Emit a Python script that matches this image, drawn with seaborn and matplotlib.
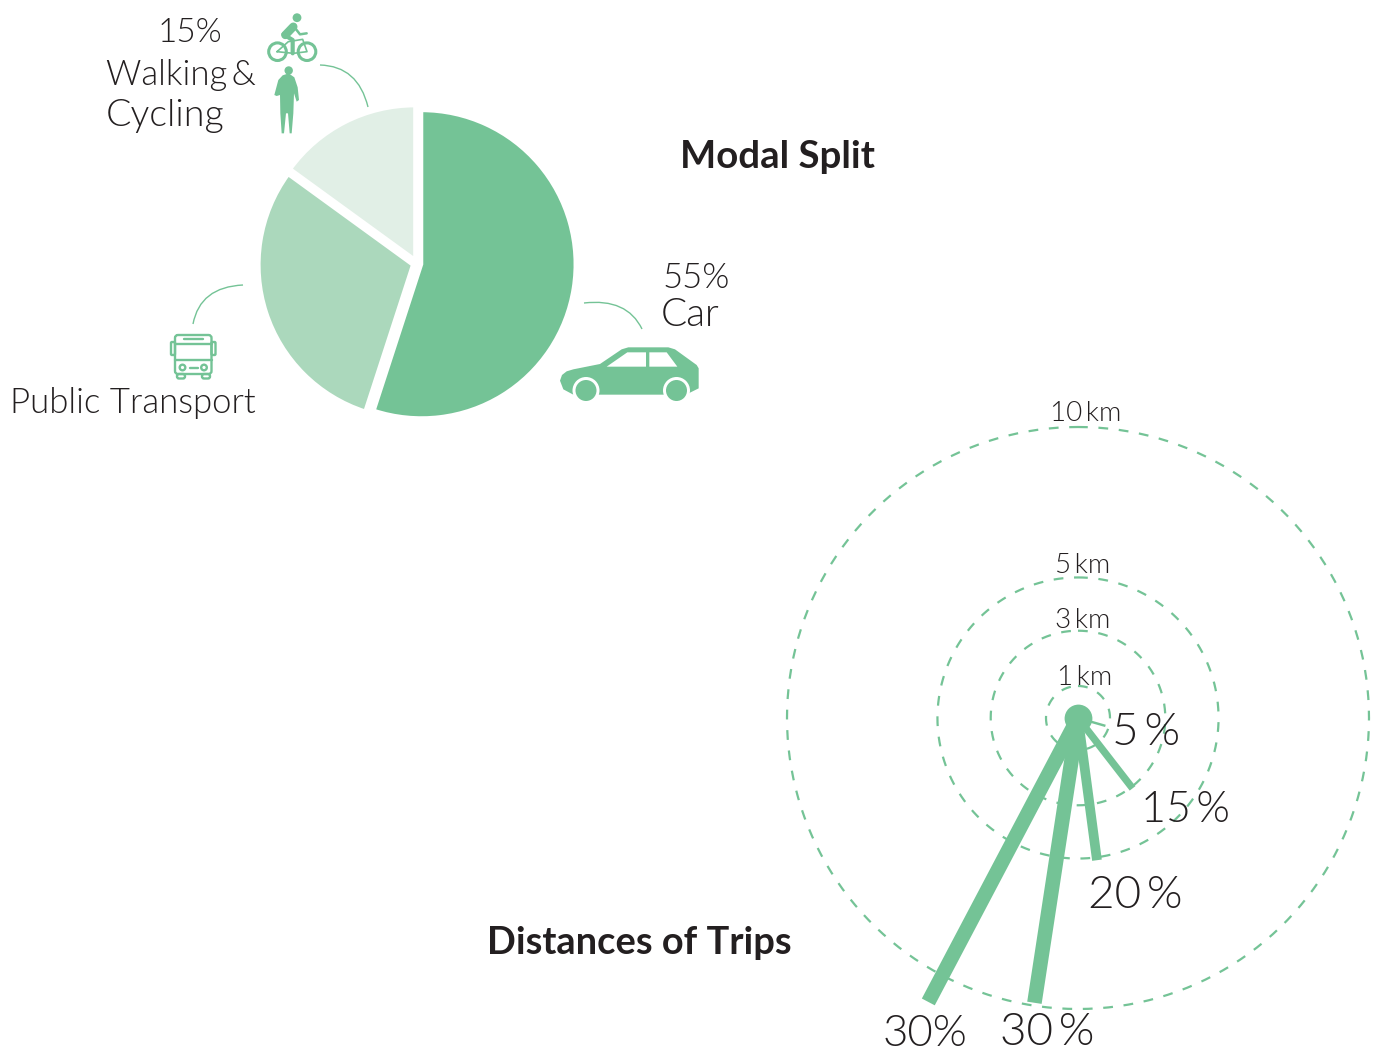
import numpy as np
import pandas as pd
import matplotlib
matplotlib.use("Agg")
import matplotlib.pyplot as plt
from matplotlib.patches import Circle, FancyBboxPatch, PathPatch, Polygon
from matplotlib.path import Path
import seaborn as sns

# modal split
modes = ["Car", "Public Transport", "Walking & Cycling"]
mode_share = [55, 30, 15]
mode_colors = ["#74C396", "#ABD8BC", "#E1EFE6"]

# trip distances
ring_km = [1, 3, 5, 10]
ring_radius = [1.1, 3.0, 4.83, 10.0]
trip_share = [5, 15, 20, 30, 30]
trip_angle = [106, 142.2, 172.4, 188.7, 207.8]
trip_reach = [0.98, 3.06, 4.93, 9.9, 11.03]

W, H = 1383, 1052
GREEN = "#74C396"
INK = "#231F20"

sns.set_theme(style="white")
plt.rcParams["font.family"] = ["Lato", "DejaVu Sans"]

fig = plt.figure(figsize=(W / 100, H / 100), dpi=100)
fig.patch.set_facecolor("white")


def px_axes(cx, cy, half, **kw):
    return fig.add_axes([(cx - half) / W, 1 - (cy + half) / H, 2 * half / W, 2 * half / H], **kw)


# %% pie
pie_ax = px_axes(417, 263.5, 153 * 1.25)
pie_ax.pie(
    mode_share,
    colors=mode_colors,
    startangle=90,
    counterclock=False,
    radius=1.005,
    explode=[0.03, 0.03, 0.03],
    wedgeprops={"edgecolor": "white", "linewidth": 2.5},
)
pie_ax.set_xlim(-1.25, 1.25)
pie_ax.set_ylim(-1.25, 1.25)

# %% rings and spokes
km_px = 29.1
polar_ax = px_axes(1078, 718, 10.2 * km_px, projection="polar")
polar_ax.set_theta_zero_location("N")
polar_ax.set_theta_direction(-1)
circle_theta = np.linspace(0, 2 * np.pi, 361)
for radius in ring_radius:
    sns.lineplot(
        x=circle_theta,
        y=np.full(361, radius),
        ax=polar_ax,
        color=GREEN,
        linewidth=1.6,
        estimator=None,
        sort=False,
        linestyle=(0, (4.4, 4.8)),
    )
for share, angle, reach in zip(trip_share, trip_angle, trip_reach):
    spoke = pd.DataFrame({"theta": np.radians([angle, angle]), "r": [0, reach]})
    sns.lineplot(
        data=spoke,
        x="theta",
        y="r",
        ax=polar_ax,
        color=GREEN,
        linewidth=share * 0.35,
        estimator=None,
        sort=False,
        solid_capstyle="butt",
        clip_on=False,
    )
polar_ax.scatter([0], [0], s=400, color=GREEN, linewidth=0, zorder=5)
polar_ax.set_rlim(0, 10.2)
polar_ax.axis("off")

# %% overlay for text, icons and leaders, in picture pixels
over = fig.add_axes([0, 0, 1, 1])
over.set_xlim(0, W)
over.set_ylim(H, 0)
over.axis("off")
over.patch.set_alpha(0)


def label(x, y, s, size, weight=300):
    over.text(x, y, s, fontsize=size, fontweight=weight, color=INK, ha="left", va="baseline")


label(158, 42, "15%", 24)
label(106, 85, "Walking\u2009&", 25)
label(106, 126, "Cycling", 27)
label(10, 413, "Public Transport", 25)
label(663, 288, "55%", 25)
label(661, 326, "Car", 28)
label(680, 168, "Modal Split", 27.6, "bold")
label(487, 954, "Distances of Trips", 27.4, "bold")
label(1050, 421, "10\u2009km", 20)
label(1055, 573, "5\u2009km", 20)
label(1055, 628, "3\u2009km", 20)
label(1057, 685, "1\u2009km", 20)
label(1112, 745, "5\u2009%", 33)
label(1141, 822, "15\u2009%", 31)
label(1088, 908, "20\u2009%", 33)
label(883, 1046, "30%", 31.5)
label(1000, 1045, "30\u2009%", 33)


def leader(start, ctrl, end):
    path = Path([start, ctrl, end], [Path.MOVETO, Path.CURVE3, Path.CURVE3])
    over.add_patch(PathPatch(path, fill=False, edgecolor=GREEN, linewidth=1.0))


leader((320, 65), (358, 66), (368, 107))
leader((584, 303), (627, 298), (642, 329))
leader((243, 285), (200, 287), (193, 324))


def from_zoom(pts, x0, y0):
    return [(x0 + x / 3, y0 + y / 3) for x, y in pts]


# car
car_body = [(60, 392), (66, 375), (80, 364), (100, 358), (180, 342), (245, 298), (265, 292), (385, 292), (405, 298),
            (470, 345), (476, 355), (476, 415), (450, 428), (440, 434), (100, 434), (70, 418)]
car_left = [(200, 350), (262, 307), (318, 307), (318, 350)]
car_right = [(328, 307), (380, 307), (412, 350), (328, 350)]
over.add_patch(Polygon(from_zoom(car_body, 540, 250), closed=True, facecolor=GREEN, edgecolor="none"))
over.add_patch(Polygon(from_zoom(car_left, 540, 250), closed=True, facecolor="white", edgecolor="none"))
over.add_patch(Polygon(from_zoom(car_right, 540, 250), closed=True, facecolor="white", edgecolor="none"))
for wx in (586, 676.5):
    over.add_patch(Circle((wx, 390.5), 13.5, facecolor="white", edgecolor="none"))
    over.add_patch(Circle((wx, 390.5), 10.5, facecolor=GREEN, edgecolor="none"))

# bicycle with rider
for wx in (277.5, 307):
    over.add_patch(Circle((wx, 51.7), 8.8, facecolor="none", edgecolor=GREEN, linewidth=2.2))
over.add_patch(Circle((297, 17.7), 4.4, facecolor=GREEN, edgecolor="none"))
torso = from_zoom([(580, 80), (556, 105)], 100, 0)
arm = from_zoom([(582, 80), (600, 103), (620, 100)], 100, 0)
leg = from_zoom([(550, 103), (578, 120), (578, 160)], 100, 0)
frame = from_zoom([(531, 155), (565, 125), (608, 118), (621, 155), (580, 160), (531, 155)], 100, 0)
over.plot(*zip(*torso), color=GREEN, linewidth=6, solid_capstyle="round")
over.plot(*zip(*arm), color=GREEN, linewidth=1.8, solid_capstyle="round")
over.plot(*zip(*leg), color=GREEN, linewidth=3, solid_capstyle="round")
over.plot(*zip(*frame), color=GREEN, linewidth=1.2)

# walker
over.add_patch(Circle((288.7, 70.5), 4.2, facecolor=GREEN, edgecolor="none"))
walker = [(566, 220), (583, 232), (593, 262), (597, 300), (590, 305), (582, 280), (580, 340), (575, 400),
          (569, 400), (564, 340), (558, 340), (552, 400), (545, 400), (541, 340), (540, 285), (530, 288),
          (523, 285), (535, 240), (548, 226)]
over.add_patch(Polygon(from_zoom(walker, 100, 0), closed=True, facecolor=GREEN, edgecolor="none"))

# bus
bus_lw = 1.7
over.add_patch(FancyBboxPatch((175, 335), 36.5, 39, boxstyle="round,pad=0,rounding_size=3",
                              facecolor="none", edgecolor=GREEN, linewidth=bus_lw))
over.plot([175, 211.5], [343.5, 343.5], color=GREEN, linewidth=bus_lw)
over.plot([175, 211.5], [360, 360], color=GREEN, linewidth=bus_lw)
over.plot([184, 203], [338.5, 338.5], color=GREEN, linewidth=bus_lw)
over.plot([189.5, 197.5], [367.5, 367.5], color=GREEN, linewidth=bus_lw)
for hx in (182.5, 204):
    over.add_patch(Circle((hx, 367.5), 2.8, facecolor="none", edgecolor=GREEN, linewidth=bus_lw))
for mx in (171, 211.5):
    over.add_patch(FancyBboxPatch((mx, 342), 4, 13, boxstyle="round,pad=0,rounding_size=1",
                                  facecolor="none", edgecolor=GREEN, linewidth=bus_lw))
for wx in (177, 202):
    over.add_patch(FancyBboxPatch((wx, 374), 8, 4.5, boxstyle="round,pad=0,rounding_size=2",
                                  facecolor="none", edgecolor=GREEN, linewidth=bus_lw))

fig.savefig("out.png", dpi=100)
